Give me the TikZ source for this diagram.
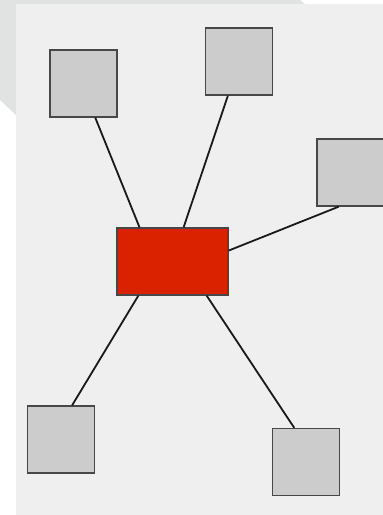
\documentclass[tikz,border=0pt]{standalone}
\usepackage{tikz}
\usetikzlibrary{positioning}

\definecolor{panelgray}{HTML}{EFEFEF}
\definecolor{shadegray}{HTML}{E1E3E3}
\definecolor{leafgray}{HTML}{CCCCCC}
\definecolor{hubred}{HTML}{DA2200}

\begin{document}
\begin{tikzpicture}[x=1pt,y=-1pt]
		\tikzset{leaf/.style={draw=black!72, line width=1.3pt, fill=leafgray, minimum width=67pt, minimum height=67pt, inner sep=0pt}};
		\tikzset{hub/.style={draw=black!72, line width=1.3pt, fill=hubred, minimum width=111pt, minimum height=67pt, inner sep=0pt}};
		\tikzset{link/.style={line width=1.8pt, black!90}};

		\useasboundingbox (0,0) rectangle (383,515);

		% background
		\fill[shadegray] (0,0) -- (300,0) -- (305,4) -- (16,4) -- (16,115) -- (0,100) -- cycle;
		\fill[panelgray] (16,4) rectangle (383,515);

		% nodes
		\node[hub]  (hub)   at (172.5,261.5) {};
		\node[leaf] (nw)    at (83.5,83.5)   {};
		\node[leaf] (north) at (239,61.5)    {};
		\node[leaf] (east)  at (350.5,172.5) {};
		\node[leaf] (sw)    at (61,439.5)    {};
		\node[leaf] (se)    at (306,462)     {};

		% links
		\draw[link] (nw.-71)     -- (hub.134);
		\draw[link] (north.-108) -- (hub.72.6);
		\draw[link] (east.-109)  -- (hub.11.7);
		\draw[link] (sw.72)      -- (hub.-135);
		\draw[link] (se.109)     -- (hub.-45);
	\end{tikzpicture}
\end{document}
